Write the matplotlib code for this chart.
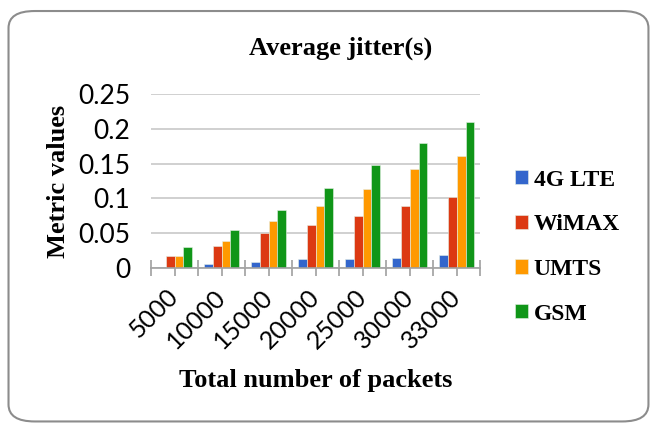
import numpy as np
import matplotlib
matplotlib.use("Agg")
import matplotlib.pyplot as plt
from matplotlib.patches import FancyBboxPatch
from matplotlib.ticker import FixedLocator

packets = ["5000", "10000", "15000", "20000", "25000", "30000", "33000"]
lte = [0.001, 0.006, 0.008, 0.013, 0.013, 0.015, 0.019]
wimax = [0.017, 0.032, 0.051, 0.062, 0.075, 0.089, 0.102]
umts = [0.017, 0.039, 0.067, 0.089, 0.113, 0.143, 0.161]
gsm = [0.030, 0.054, 0.084, 0.115, 0.148, 0.179, 0.210]

series = [("4G LTE", lte, "#3366cc"), ("WiMAX", wimax, "#dc3912"),
          ("UMTS", umts, "#ff9900"), ("GSM", gsm, "#109618")]

serif = "Liberation Serif"
sans = ["Liberation Sans Narrow", "Lato"]

fig = plt.figure(figsize=(6.55, 4.24), dpi=100)
# rounded frame around the chart
frame = FancyBboxPatch((0.013, 0.006), 0.977, 0.968, boxstyle="round,pad=0,rounding_size=0.04",
                       transform=fig.transFigure, fill=False, edgecolor="#8c8c8c", linewidth=1.5)
fig.patches.append(frame)

ax = fig.add_axes([0.2305, 0.368, 0.503, 0.41])
x = np.arange(len(packets))
w = 0.185
for i, (name, vals, col) in enumerate(series):
    ax.bar(x + (i - 1.5) * w, vals, w, color=col, label=name, edgecolor="#e6f0e6", linewidth=0.4)

ax.set_xlim(-0.5, len(packets) - 0.5)
ax.set_ylim(0, 0.25)
ax.set_yticks([0, 0.05, 0.1, 0.15, 0.2, 0.25])
ax.set_yticklabels(["0", "0.05", "0.1", "0.15", "0.2", "0.25"], fontfamily=sans, fontsize=19)
ax.tick_params(axis="y", length=0, pad=15)
ax.grid(axis="y", color="#c8c8c8", linewidth=1.2)
ax.set_axisbelow(True)
for s in ["left", "right", "top"]:
    ax.spines[s].set_visible(False)
ax.spines["bottom"].set_color("#a0a0a0")
ax.spines["bottom"].set_linewidth(1.2)

ax.set_xticks(x)
ax.set_xticklabels(packets, fontfamily=sans, fontsize=18, rotation=45, ha="right", va="center",
                   rotation_mode="anchor")
ax.xaxis.set_minor_locator(FixedLocator(np.arange(-0.5, len(packets), 1.0)))
ax.tick_params(axis="x", which="major", length=6, color="#a0a0a0", width=1.2, pad=12)
ax.tick_params(axis="x", which="minor", length=12, direction="inout", color="#a0a0a0", width=1.2)

ax.set_ylabel("Metric values", fontfamily=serif, fontweight="bold", fontsize=19, labelpad=6)
ax.set_xlabel("Total number of packets", fontfamily=serif, fontweight="bold", fontsize=19, labelpad=12)
fig.text(0.52, 0.885, "Average jitter(s)", fontfamily=serif, fontweight="bold", fontsize=19,
         ha="center", va="center")

leg = ax.legend(loc="center left", bbox_to_anchor=(1.04, 0.12), frameon=False,
                prop={"family": serif, "weight": "bold", "size": 17},
                handlelength=0.55, handleheight=0.55, handletextpad=0.25, labelspacing=1.0)

fig.savefig("out.png", dpi=100)
